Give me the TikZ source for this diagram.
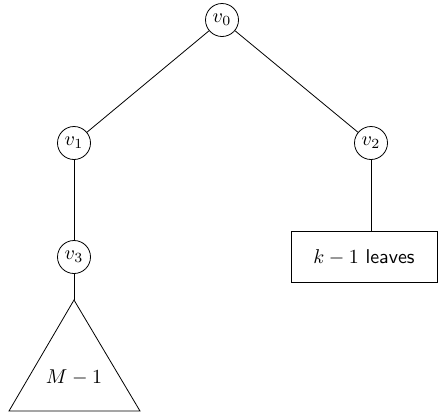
\documentclass[tikz,border=0pt]{standalone}
\begin{document}
\begin{tikzpicture}[x=0.5pt,y=-0.5pt,
  vert/.style={draw,circle,inner sep=1.6pt,minimum size=16.5pt},
  leafbox/.style={draw,rectangle,minimum width=73pt,minimum height=25.5pt,inner sep=0pt},
  edge/.style={draw}]
\useasboundingbox (0,0) rectangle (439,414);
\node[vert] (v0) at (222,20) {$v_0$};
\node[vert] (v1) at (74,143) {$v_1$};
\node[vert] (v2) at (371,143) {$v_2$};
\node[vert] (v3) at (74,257) {$v_3$};
\node[leafbox] (L) at (364,257) {$k-1$ \textsf{leaves}};
\coordinate (apex) at (74,300);
\coordinate (bl) at (9,411);
\coordinate (br) at (140,411);
\draw (apex) -- (bl) -- (br) -- cycle;
\node (M) at (74,377) {$M-1$};
\path[edge] (v0) -- (v1);
\path[edge] (v0) -- (v2);
\path[edge] (v1) -- (v3);
\path[edge] (v2) -- (v2 |- L.north);
\path[edge] (v3) -- (apex);
\end{tikzpicture}
\end{document}
